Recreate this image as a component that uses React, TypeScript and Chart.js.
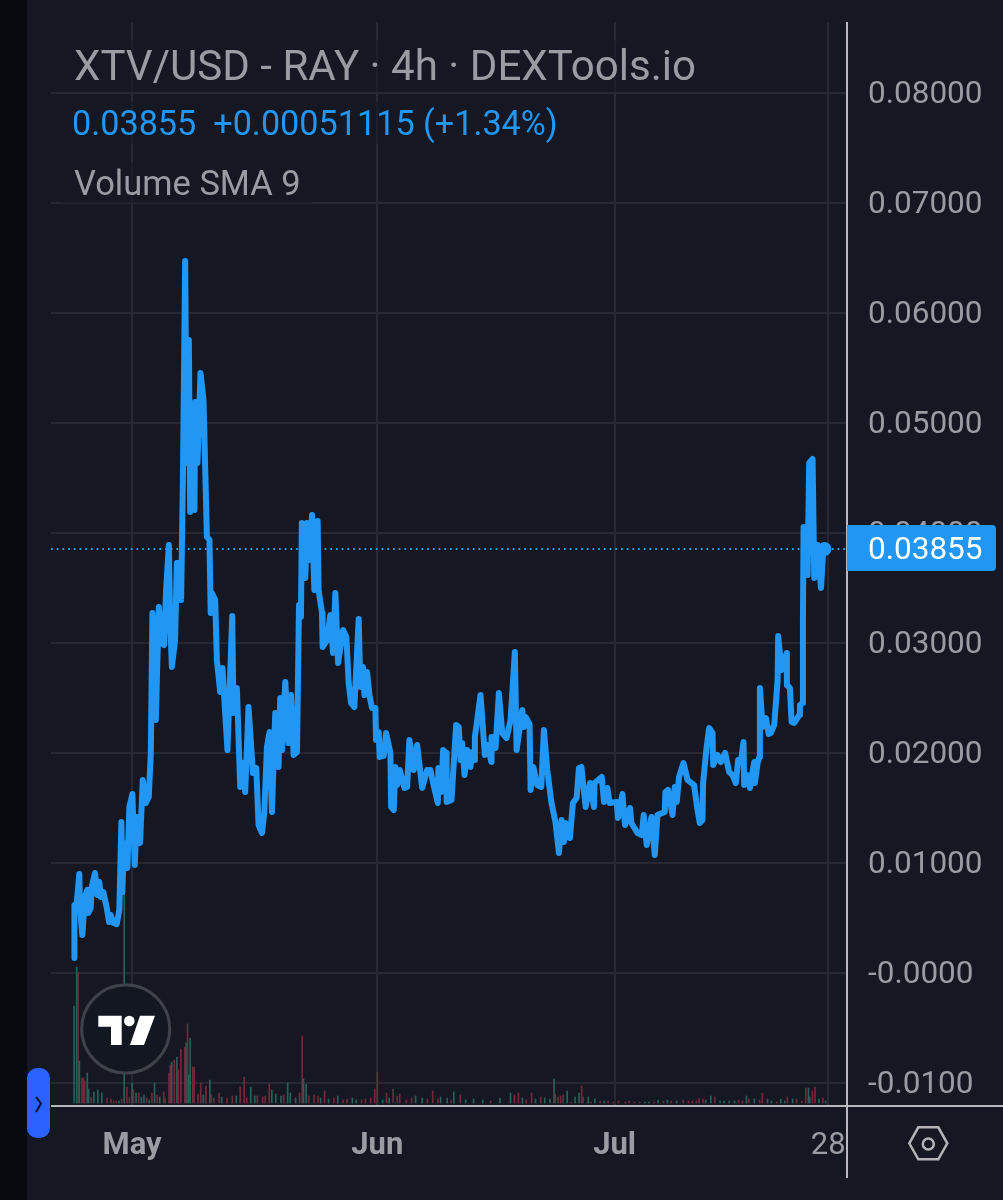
import { useEffect, useRef } from "react";
import { Chart, registerables } from "chart.js";

Chart.register(...registerables);

// x axis is in days counted from 1 May
const monthTickDays = [0, 31, 61, 88];
const monthTickLabels = ["May", "Jun", "Jul", "28"];

const priceTicks = [0.08, 0.07, 0.06, 0.05, 0.04, 0.03, 0.02, 0.01, 0, -0.01];
const priceTickLabels = ["0.08000", "0.07000", "0.06000", "0.05000", "0.04000", "0.03000", "0.02000", "0.01000", "-0.0000", "-0.0100"];

const lastPrice = 0.03855;
const lastPriceLabel = "0.03855";

const priceDays = [
  -7.3, -7.29, -7.0, -6.67, -6.58, -6.29, -5.95, -5.66, -5.53, -5.23,
  -5.1, -4.68, -4.39, -4.14, -3.96, -3.63, -3.2, -2.91, -2.7, -2.37,
  -1.94, -1.61, -1.35, -1.23, -1.01, -0.59, -0.34, 0.04, 0.34, 0.59,
  1.01, 1.35, 1.73, 2.11, 2.37, 2.57, 3.0, 3.38, 3.67, 4.05,
  4.3, 4.65, 4.81, 5.03, 5.44, 5.66, 5.99, 6.2, 6.42, 6.71,
  6.9, 7.18, 7.34, 7.56, 7.89, 7.97, 8.27, 8.65, 9.03, 9.46,
  9.78, 9.94, 10.09, 10.51, 10.72, 11.14, 11.43, 11.77, 12.06, 12.66,
  12.82, 13.25, 13.67, 14.01, 14.3, 14.72, 15.28, 15.7, 15.99, 16.42,
  16.71, 17.05, 17.38, 17.68, 18.1, 18.52, 18.73, 18.95, 19.37, 19.78,
  20.09, 20.42, 20.85, 21.1, 21.35, 21.46, 21.9, 22.11, 22.44, 22.75,
  23.04, 23.46, 23.58, 24.01, 24.09, 24.65, 25.06, 25.41, 25.7, 26.04,
  26.67, 27.09, 27.38, 27.68, 28.1, 28.65, 28.86, 29.2, 29.37, 29.71,
  30.04, 30.34, 30.76, 30.84, 31.18, 31.3, 31.81, 32.11, 32.66, 32.75,
  33.08, 33.29, 33.51, 33.84, 34.43, 34.77, 35.06, 35.6, 36.04, 36.67,
  37.3, 37.72, 38.06, 38.65, 38.72, 39.08, 39.33, 39.71, 39.77, 40.38,
  40.67, 40.97, 41.3, 41.52, 41.73, 42.03, 42.37, 42.78, 43.0, 43.29,
  43.34, 44.05, 44.6, 44.97, 45.41, 45.44, 45.95, 46.37, 46.8, 47.34,
  47.85, 48.39, 48.61, 49.33, 49.53, 49.75, 50.25, 50.38, 50.72, 51.23,
  51.73, 52.06, 52.49, 53.0, 53.54, 53.96, 54.3, 54.59, 54.81, 55.35,
  55.73, 56.2, 56.49, 56.8, 57.34, 57.89, 58.39, 58.46, 59.37, 59.66,
  60.09, 60.38, 61.27, 61.43, 61.99, 62.32, 62.95, 63.13, 63.89, 64.43,
  64.68, 65.06, 65.66, 66.08, 66.42, 67.34, 67.42, 67.76, 68.32, 68.61,
  68.86, 69.15, 69.71, 70.22, 71.05, 71.48, 71.77, 72.11, 72.19, 72.62,
  72.95, 73.38, 73.46, 74.01, 74.43, 74.97, 75.48, 75.91, 76.33, 76.62,
  76.96, 77.3, 77.38, 77.81, 78.1, 78.65, 78.73, 79.08, 79.3, 79.37,
  79.71, 80.13, 80.47, 80.76, 81.18, 81.61, 81.68, 82.11, 82.75, 82.78,
  83.16, 83.38, 83.71, 84.34, 84.43, 84.77, 84.81, 84.89, 85.4, 85.6,
  86.03, 86.24, 86.67, 87.09, 87.4, 87.53,
];

const priceValues = [
  0.00136, 0.00618, 0.00636, 0.009, 0.00591, 0.00345, 0.00691, 0.00755, 0.00545, 0.00591,
  0.00782, 0.00909, 0.00709, 0.00827, 0.00691, 0.00736, 0.00591, 0.00464, 0.00527, 0.00455,
  0.00445, 0.00573, 0.01373, 0.00736, 0.01182, 0.00955, 0.01509, 0.01627, 0.00982, 0.01418,
  0.01182, 0.01755, 0.01545, 0.016, 0.02, 0.03273, 0.023, 0.03327, 0.03, 0.02982,
  0.03482, 0.03891, 0.03209, 0.02782, 0.03027, 0.03727, 0.03727, 0.03391, 0.04455, 0.06473,
  0.04636, 0.05755, 0.04191, 0.04755, 0.04209, 0.05191, 0.04636, 0.05455, 0.05209, 0.03964,
  0.03936, 0.03273, 0.03455, 0.03391, 0.02845, 0.02555, 0.02773, 0.02364, 0.02027, 0.03245,
  0.02364, 0.02591, 0.01691, 0.01909, 0.01645, 0.02418, 0.01818, 0.01864, 0.01345, 0.01273,
  0.01455, 0.02055, 0.02191, 0.01464, 0.02364, 0.01873, 0.025, 0.02027, 0.02645, 0.02091,
  0.02527, 0.01982, 0.02009, 0.03345, 0.03236, 0.04091, 0.03591, 0.04091, 0.03755, 0.04164,
  0.03482, 0.04109, 0.03482, 0.03273, 0.02964, 0.03027, 0.03255, 0.02909, 0.03455, 0.02818,
  0.03118, 0.03055, 0.02636, 0.02455, 0.02418, 0.03218, 0.026, 0.02782, 0.02527, 0.02736,
  0.02509, 0.02409, 0.02409, 0.02118, 0.02191, 0.01964, 0.01973, 0.02182, 0.02, 0.01509,
  0.01482, 0.01873, 0.01709, 0.01845, 0.01682, 0.01691, 0.02118, 0.01845, 0.02073, 0.01682,
  0.01845, 0.01845, 0.01727, 0.01545, 0.01864, 0.01645, 0.02027, 0.02, 0.01555, 0.01573,
  0.01909, 0.02255, 0.02236, 0.01936, 0.02091, 0.018, 0.02027, 0.01873, 0.02009, 0.01936,
  0.02145, 0.02527, 0.01982, 0.02073, 0.01918, 0.02145, 0.02045, 0.02545, 0.02182, 0.02136,
  0.023, 0.02918, 0.02027, 0.02391, 0.02236, 0.02327, 0.02264, 0.01664, 0.01873, 0.01709,
  0.01691, 0.02209, 0.01845, 0.01555, 0.01364, 0.01091, 0.01391, 0.01191, 0.01364, 0.01227,
  0.01545, 0.01591, 0.01864, 0.01873, 0.01509, 0.01727, 0.01509, 0.01727, 0.01782, 0.01555,
  0.01682, 0.01545, 0.01555, 0.01409, 0.01627, 0.01345, 0.015, 0.01364, 0.01273, 0.01255,
  0.01436, 0.01164, 0.01418, 0.01073, 0.01436, 0.01464, 0.01645, 0.01664, 0.01436, 0.01691,
  0.01555, 0.01782, 0.01909, 0.01755, 0.01709, 0.01482, 0.01364, 0.01391, 0.01727, 0.02045,
  0.02227, 0.02182, 0.01891, 0.01982, 0.01918, 0.02, 0.01827, 0.018, 0.01727, 0.01936,
  0.01918, 0.021, 0.01709, 0.018, 0.01682, 0.01918, 0.01727, 0.01909, 0.01964, 0.02591,
  0.02236, 0.02318, 0.02173, 0.02182, 0.02255, 0.02664, 0.03064, 0.02755, 0.02909, 0.02618,
  0.02591, 0.02282, 0.02273, 0.02345, 0.02436, 0.02455, 0.03209, 0.04055, 0.03618, 0.04636,
  0.04673, 0.03591, 0.03891, 0.035, 0.03864, 0.03855,
];

// volume: 4h bar number, height, g = up candle, r = down candle
const firstBarDay = -7.33;
const volumeBars = [
  0, 2, 3, 4, 6, 7, 8, 10, 11, 13, 15, 18, 21, 25, 28, 30, 32, 34, 36, 38,
  40, 42, 44, 45, 47, 49, 51, 53, 55, 57, 59, 61, 63, 65, 68, 69, 72, 73, 74, 76,
  78, 79, 81, 84, 85, 86, 87, 88, 90, 91, 94, 96, 98, 100, 103, 104, 106, 110, 112, 116,
  120, 123, 126, 129, 131, 134, 137, 139, 143, 145, 148, 150, 153, 157, 159, 162, 164, 168, 171, 173,
  174, 176, 178, 182, 185, 187, 190, 193, 197, 200, 204, 207, 211, 214, 218, 221, 225, 228, 230, 234,
  237, 239, 242, 245, 247, 252, 256, 259, 264, 268, 272, 276, 278, 283, 286, 288, 293, 297, 303, 310,
  316, 323, 331, 334, 337, 340, 343, 347, 350, 354, 357, 361, 364, 365, 367, 369, 371, 374, 377, 380,
  383, 385, 386, 390, 392, 395, 399, 402, 405, 409, 413, 418, 421, 425, 429, 433, 436, 440, 443, 447,
  450, 453, 457, 462, 466, 469, 472, 474, 477, 479, 483, 486, 490, 493, 497, 501, 504, 507, 510, 512,
  516, 520, 522, 526, 529, 533, 536, 539, 541, 545, 548, 552, 555, 557, 558, 560, 562, 565, 568, 570,
];
const volumeValues = [
  97, 136, 131, 42, 25, 25, 22, 30, 14, 6, 11, 13, 10, 5, 4, 2, 2, 2, 4, 211,
  16, 6, 20, 13, 10, 10, 6, 8, 5, 3, 10, 20, 8, 6, 11, 5, 30, 38, 41, 43,
  46, 33, 54, 56, 60, 79, 28, 65, 36, 36, 9, 20, 8, 17, 23, 8, 5, 10, 6, 5,
  7, 7, 16, 26, 5, 16, 7, 7, 6, 7, 19, 13, 9, 7, 8, 20, 10, 5, 10, 67,
  24, 19, 7, 8, 7, 5, 12, 4, 5, 7, 3, 4, 5, 3, 3, 4, 5, 14, 31, 3,
  10, 5, 14, 7, 9, 3, 5, 7, 5, 4, 12, 4, 6, 5, 3, 11, 8, 3, 4, 3,
  2, 5, 10, 8, 10, 5, 3, 10, 4, 6, 5, 4, 24, 9, 6, 7, 8, 12, 1, 6,
  10, 17, 6, 6, 1, 4, 2, 2, 2, 1, 2, 1, 2, 1, 1, 1, 1, 1, 3, 2,
  3, 2, 2, 3, 2, 2, 2, 5, 4, 3, 7, 6, 2, 2, 2, 2, 3, 2, 7, 4,
  4, 3, 10, 4, 2, 1, 4, 2, 6, 4, 4, 2, 15, 15, 6, 12, 16, 4, 5, 2,
];
const volumeSides = [
  "ggrgrrrggrgggrrrrgrg",
  "rrgrgrggrgrgrgrrrrgr",
  "grrrgrggrrrrgrgrrrgr",
  "rgrrrggrrrrgggrgggrr",
  "ggrrrgrgrgrrggrrrrrg",
  "rgrrrrrggrrrggrgrggg",
  "rggrrgrrgrgggrrrrgrg",
  "grrgrgrgrrrrrrrggrgr",
  "grgrrrrrrggrggggrrgr",
  "grrggrggrgrrrggrrgrg",
].join("");

const PLOT_LEFT = 51;
const PLOT_TOP = 22;
const AXIS_X = 847;
const AXIS_Y = 1106;
const AXIS_COLOR = "#b9b9bd";
const LABEL_COLOR = "#9b9ca3";
const GRID_COLOR = "#262934";
const BLUE = "#2196f3";
const PRICE_FONT = "31.5px Roboto";

const axisLines = {
  id: "axisLines",
  afterDraw(chart: Chart) {
    const { ctx } = chart;
    ctx.save();
    ctx.strokeStyle = AXIS_COLOR;
    ctx.lineWidth = 2;
    ctx.beginPath();
    ctx.moveTo(PLOT_LEFT, AXIS_Y);
    ctx.lineTo(1003, AXIS_Y);
    ctx.moveTo(AXIS_X, PLOT_TOP);
    ctx.lineTo(AXIS_X, 1178);
    ctx.stroke();
    ctx.restore();
  },
};

// price labels sit a little lower than chart.js would put them, so they are drawn here
const priceLabels = {
  id: "priceLabels",
  afterDraw(chart: Chart) {
    const { ctx } = chart;
    ctx.save();
    ctx.fillStyle = LABEL_COLOR;
    ctx.font = PRICE_FONT;
    ctx.textBaseline = "middle";
    priceTicks.forEach((tick, i) => {
      ctx.fillText(priceTickLabels[i], 868, chart.scales.y.getPixelForValue(tick) + 2);
    });
    ctx.restore();
  },
};

const priceTag = {
  id: "priceTag",
  afterDraw(chart: Chart) {
    const { ctx } = chart;
    const y = chart.scales.y.getPixelForValue(lastPrice);
    ctx.save();
    ctx.fillStyle = BLUE;
    ctx.beginPath();
    ctx.roundRect(AXIS_X, y - 24, 149, 46, [0, 4, 4, 0]);
    ctx.fill();
    ctx.fillStyle = "#ffffff";
    ctx.font = PRICE_FONT;
    ctx.textBaseline = "middle";
    ctx.fillText(lastPriceLabel, 868, y + 2);
    ctx.restore();
  },
};

const legendRow = (left: number, top: number, width: number, height: number, size: number, color: string) => ({
  position: "absolute" as const,
  left,
  top,
  width,
  height,
  lineHeight: height + "px",
  fontSize: size,
  color,
  fontFamily: "Roboto",
  whiteSpace: "pre" as const,
  background: "rgba(21,24,35,0.6)",
});

export default function App() {
  const canvasRef = useRef<HTMLCanvasElement>(null);

  useEffect(() => {
    if (!canvasRef.current) return;
    const chart = new Chart(canvasRef.current, {
      type: "line",
      data: {
        datasets: [
          {
            label: "Last price",
            data: [
              { x: -10.25, y: lastPrice },
              { x: 90.38, y: lastPrice },
            ],
            borderColor: "#1fa5f5",
            borderWidth: 2,
            borderDash: [1.7, 4],
            pointRadius: 0,
            order: 1,
          },
          {
            label: "XTV/USD",
            data: priceDays.map((d, i) => ({ x: d, y: priceValues[i] })),
            borderColor: BLUE,
            backgroundColor: BLUE,
            borderWidth: 6,
            borderCapStyle: "round",
            borderJoinStyle: "round",
            tension: 0,
            pointRadius: (ctx: any) => (ctx.dataIndex === priceDays.length - 1 ? 7 : 0),
            pointBorderWidth: 0,
            order: 0,
          },
          {
            type: "bar",
            label: "Volume",
            yAxisID: "volume",
            data: volumeBars.map((n, i) => ({ x: firstBarDay + n / 6, y: volumeValues[i] })),
            backgroundColor: volumeBars.map((_, i) => (volumeSides[i] === "g" ? "#23635a" : "#74293a")),
            barThickness: 1,
            order: 2,
          },
        ] as any,
      },
      options: {
        animation: false,
        responsive: false,
        devicePixelRatio: 1,
        layout: { padding: { left: PLOT_LEFT, top: PLOT_TOP, right: 0, bottom: 0 } },
        plugins: { legend: { display: false }, tooltip: { enabled: false } },
        scales: {
          x: {
            type: "linear",
            offset: false,
            min: -10.25,
            max: 90.38,
            afterBuildTicks: (axis: any) => {
              axis.ticks = monthTickDays.map((value) => ({ value }));
            },
            afterFit: (axis: any) => {
              axis.height = 1200 - AXIS_Y;
              axis.paddingLeft = 0;
              axis.paddingRight = 0;
            },
            grid: { color: GRID_COLOR, lineWidth: 2, drawTicks: false, offset: false },
            border: { display: false },
            ticks: {
              autoSkip: false,
              maxRotation: 0,
              padding: 22,
              color: LABEL_COLOR,
              font: (ctx: any) => ({
                family: "Roboto",
                size: 31,
                weight: ctx.index < 3 ? "bold" : "normal",
              }),
              callback: (_v: any, i: number) => monthTickLabels[i],
            },
          },
          y: {
            type: "linear",
            position: "right",
            min: -0.01209,
            max: 0.08645,
            afterBuildTicks: (axis: any) => {
              axis.ticks = priceTicks.map((value) => ({ value }));
            },
            afterFit: (axis: any) => {
              axis.width = 1003 - AXIS_X;
              axis.paddingTop = 0;
              axis.paddingBottom = 0;
            },
            grid: { color: GRID_COLOR, lineWidth: 2, drawTicks: false },
            border: { display: false },
            ticks: { display: false },
          },
          // one unit is about one pixel of bar height, the axis itself is hidden
          volume: {
            type: "linear",
            display: false,
            min: -3,
            max: 1081,
          },
        },
      } as any,
      plugins: [axisLines, priceLabels, priceTag],
    });
    return () => {
      chart.destroy();
    };
  }, []);

  return (
    <div style={{ position: "absolute", left: 0, top: 0, width: 1003, height: 1200, overflow: "hidden", background: "#151823" }}>
      <canvas ref={canvasRef} width={1003} height={1200} style={{ position: "absolute", left: 0, top: 0, display: "block" }} />
      <div style={{ position: "absolute", left: 0, top: 0, width: 27, height: 1200, background: "#070b10" }} />
      <div style={{ ...legendRow(61, 40, 647, 52, 42.1, LABEL_COLOR), paddingLeft: 13, boxSizing: "border-box" }}>XTV/USD - RAY · 4h · DEXTools.io</div>
      <div style={{ ...legendRow(61, 102, 510, 42, 34.2, BLUE), paddingLeft: 11, boxSizing: "border-box" }}>0.03855  +0.00051115 (+1.34%)</div>
      <div style={{ ...legendRow(61, 163, 251, 40, 34.5, LABEL_COLOR), paddingLeft: 13, boxSizing: "border-box" }}>Volume SMA 9</div>
      <svg width={1003} height={1200} style={{ position: "absolute", left: 0, top: 0 }}>
        <circle cx={125.7} cy={1029} r={44} fill="#131722" stroke="#3f414b" strokeWidth={3} />
        <path d="M98.3 1015.7H121.7V1045H111V1026.7H98.3Z M140 1015.7H155L144 1045H130Z" fill="#ffffff" />
        <circle cx={129.3} cy={1021} r={5.3} fill="#ffffff" />
        <rect x={27} y={1068} width={23} height={70} rx={10} fill="#2962ff" />
        <path d="M36 1097L41 1103.5L36 1112" fill="none" stroke="#0d1330" strokeWidth={2} />
        <path d="M909.3 1143.3L918.3 1127.3H938.3L947.3 1143.3L938.3 1159.3H918.3Z" fill="none" stroke="#b4b4b9" strokeWidth={2.5} />
        <circle cx={928.3} cy={1144} r={5.5} fill="none" stroke="#b4b4b9" strokeWidth={2.5} />
      </svg>
    </div>
  );
}
